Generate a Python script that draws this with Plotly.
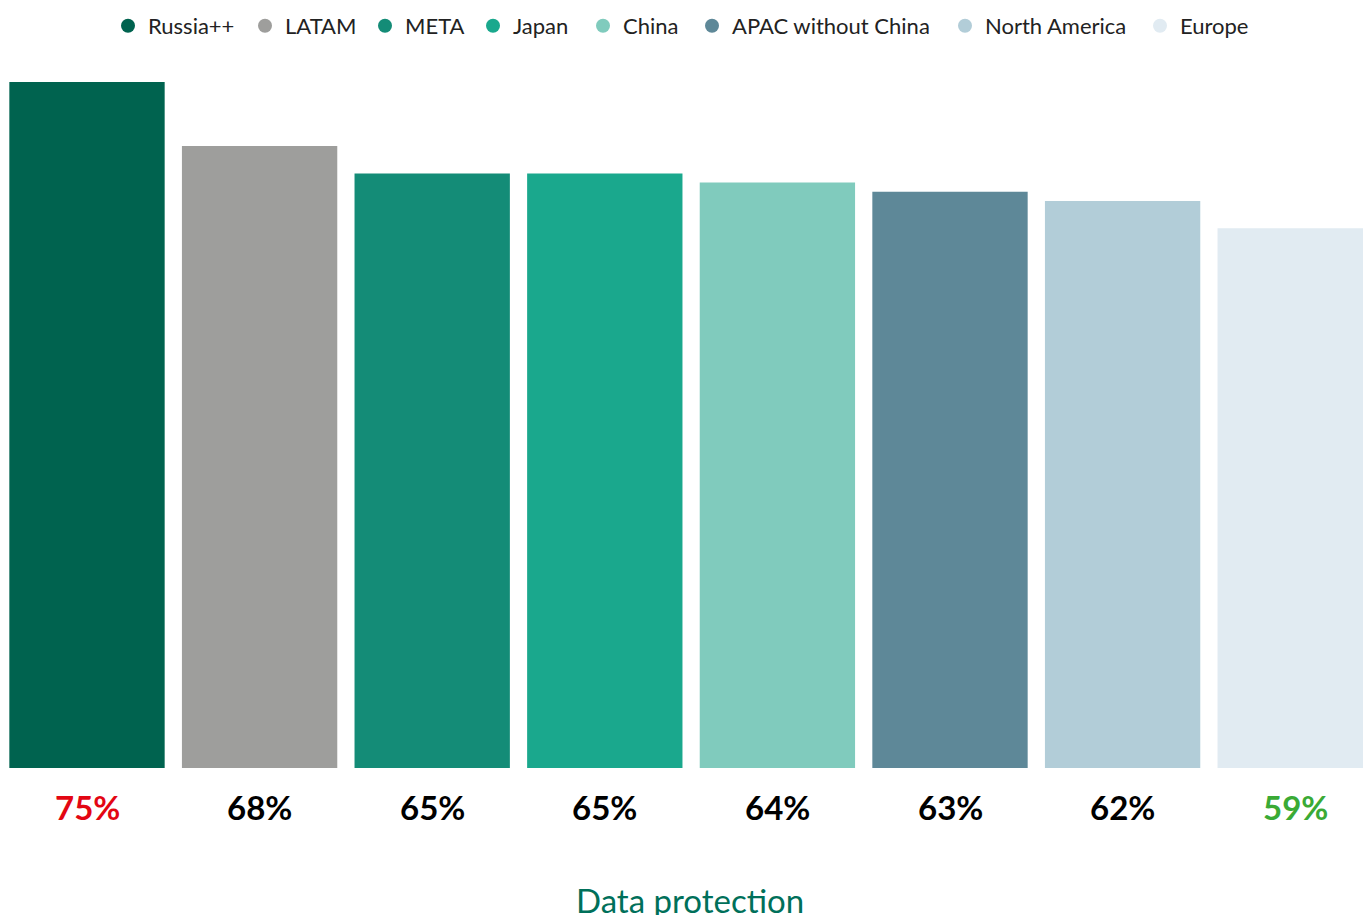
import plotly.graph_objects as go

regions = ["Russia++", "LATAM", "META", "Japan", "China", "APAC without China", "North America", "Europe"]
values = [75, 68, 65, 65, 64, 63, 62, 59]
labels = ["75%", "68%", "65%", "65%", "64%", "63%", "62%", "59%"]
bar_colors = ["#00634f", "#9e9e9c", "#148c77", "#1aa88d", "#80cbbd", "#5e8898", "#b2cdd8", "#e1ebf2"]
label_colors = ["#e30613", "#000000", "#000000", "#000000", "#000000", "#000000", "#000000", "#3aaa35"]
axis_title = "Data protection"
# legend marker centres (pixels)
legend_x_px = [131, 268, 388, 496, 606, 715, 968, 1163]

W, H = 1363, 915
unit = 172.6
r0 = -87 / unit

fig = go.Figure()
for i, (r, v, c) in enumerate(zip(regions, values, bar_colors)):
    fig.add_trace(go.Bar(x=[i], y=[v], marker=dict(color=c, line=dict(width=0)),
                         width=0.9, showlegend=False, hoverinfo="skip", name=r))

legend_layout = {}
for k, (r, c, px) in enumerate(zip(regions, bar_colors, legend_x_px)):
    lname = "legend" if k == 0 else f"legend{k + 1}"
    fig.add_trace(go.Scatter(x=[None], y=[None], mode="markers", name=r, legend=lname,
                             marker=dict(symbol="circle", size=14, color=c)))
    legend_layout[lname] = dict(
        orientation="h", xref="container", yref="container",
        x=(px - 23) / W, xanchor="left", y=1 - 26 / H, yanchor="middle",
        font=dict(family="Lato", size=22, color="#222222"),
        bgcolor="rgba(0,0,0,0)", borderwidth=0,
    )

for i, (t, c) in enumerate(zip(labels, label_colors)):
    fig.add_annotation(x=i, y=0, xref="x", yref="y", text=f"<b>{t}</b>", showarrow=False,
                       yanchor="middle", yshift=-39,
                       font=dict(family="Lato", size=33, color=c))

fig.add_annotation(x=690 / W, y=0, xref="paper", yref="paper", xanchor="center",
                   yanchor="middle", yshift=-132, text=axis_title, showarrow=False,
                   font=dict(family="Lato", size=33, color="#00705a"))

fig.update_layout(
    width=W, height=H,
    margin=dict(l=0, r=0, t=82, b=147),
    paper_bgcolor="white", plot_bgcolor="white",
    font=dict(family="Lato", size=22, color="#222222"),
    xaxis=dict(range=[r0, r0 + W / unit], visible=False, fixedrange=True),
    yaxis=dict(range=[0, 75], visible=False, fixedrange=True),
    bargap=0.1,
    **legend_layout,
)

fig.write_html("out.html", config={"displayModeBar": False},
               post_script="document.body.style.margin='0';document.body.style.overflow='hidden';")
